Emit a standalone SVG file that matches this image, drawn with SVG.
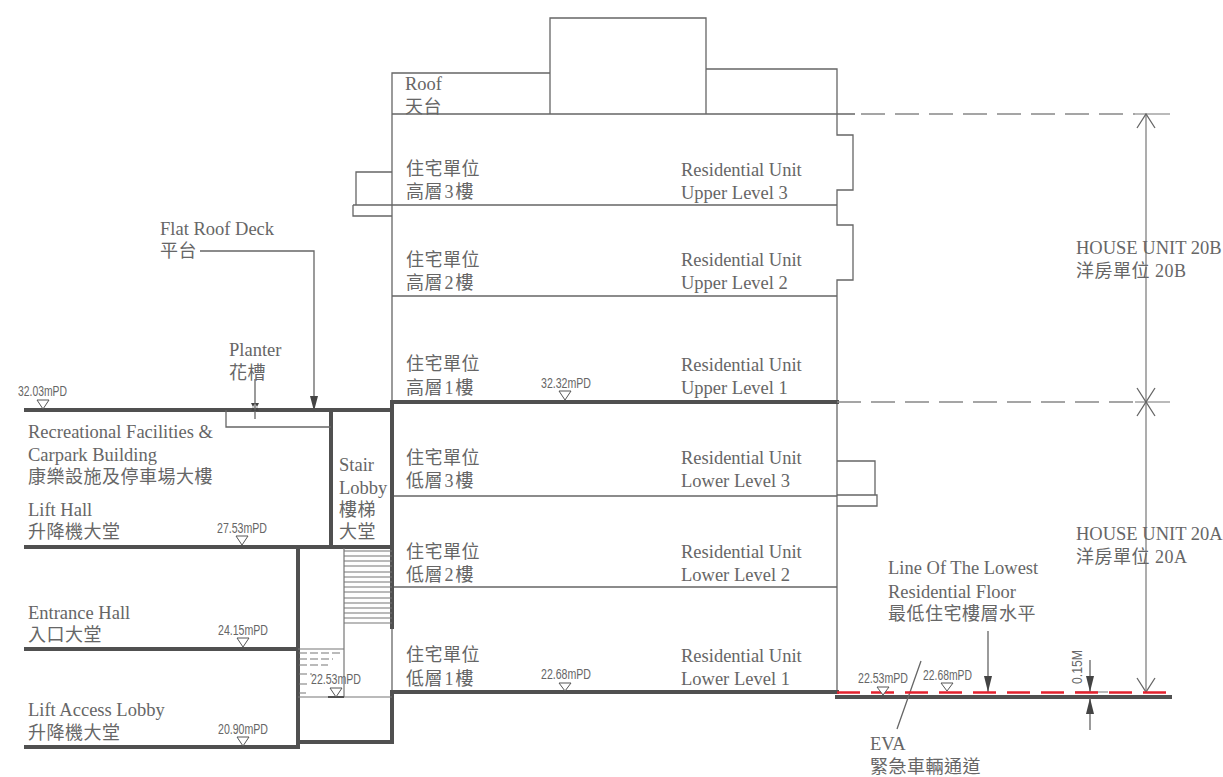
<svg xmlns="http://www.w3.org/2000/svg" width="1223" height="777" viewBox="0 0 1223 777">
<style>
text{font-family:"Liberation Serif","Noto Sans CJK TC",serif;font-size:18.5px;fill:#666}
.c{font-size:18px;letter-spacing:.5px}
.c tspan{letter-spacing:2px}
.m{font-family:"Liberation Sans","Noto Sans CJK TC",sans-serif;font-size:15.5px;fill:#666}
.t{fill:none;stroke:#666;stroke-width:1.3}
.k{fill:none;stroke:#505050;stroke-width:4;stroke-linecap:square}
.l{fill:none;stroke:#777;stroke-width:1.2}
.d{fill:none;stroke:#888;stroke-width:1.3;stroke-dasharray:24 10}
.a{fill:#444;stroke:none}
.o{fill:#fff;stroke:#555;stroke-width:1}
</style>
<rect width="1223" height="777" fill="#fff"/>
<g id="building-outline">
<path class="t" d="M392 114V73H550M550 114V18H706V114M706 69H837V114M392 114H855"/>
<path class="t" d="M392 114V402M837 114V135H853V190H837V225H853V280H837V692"/>
<path class="t" d="M392 205H837M392 296H837M392 496H837M392 587H837"/>
<path class="t" d="M392 172H356V205M353 205H392M353 205V216H392M837 461H875V495M837 495H877V506H837"/>
<path class="t" d="M392 627V692"/>
</g>
<g id="heavy-slabs">
<path class="k" d="M392 402H837M392 402V627M392 692H837M392 692V742H298M298 547V747M26 410H392M26 547H392M331 410V547M26 649H298M26 747H298M837 697H1170"/>
</g>
<g id="stair">
<path class="t" d="M226 410V427H331"/>
<path class="l" d="M344 548V697M298 697H392M298 649H344"/>
<path class="l" d="M344 551H392M344 556H392M344 561H392M344 566H392M344 572H392M344 577H392M344 582H392M344 587H392M344 592H392M344 598H392M344 603H392M344 608H392M344 613H392M344 618H392M344 623H392"/>
<path class="l" stroke-dasharray="8 3" d="M299 653H342M299 659H333M299 665H328M299 674H312M299 684H310M299 693H306"/>
<path class="k" style="stroke-width:2" d="M329 697H343"/>
</g>
<g id="connectors">
<path class="d" d="M861 114H1135M837 402H1135"/>
<path class="l" d="M1135 402H1170M1135 114H1170M1146 114V692"/>
<path class="t" d="M1137 128L1146 114L1155 128M1137 388L1146 402L1155 388M1137 416L1146 402L1155 416M1137 678L1146 692L1155 678"/>
<path class="t" d="M200 251H314V410M255 379V419M988 631V692M1090 660V692M1090 698V730M921 661L897 729"/>
<path class="a" d="M251 403H259L255 411ZM251 411H259L255 403ZM310 396H318L314 411ZM984 676H992L988 692ZM1086 676H1094L1090 692ZM1086 714H1094L1090 698Z"/>
<path class="l" d="M1075 692H1108"/>
<path fill="none" stroke="#e3222e" stroke-width="2.6" stroke-dasharray="23 11" d="M837 692.500H1170"/>
</g>
<g id="level-marks">
<path class="o" d="M37 400H49L43 409Z"/>
<path class="o" d="M236 536H248L242 545Z"/>
<path class="o" d="M237 638H249L243 647Z"/>
<path class="o" d="M237 737H249L243 746Z"/>
<path class="o" d="M330 688H342L336 697Z"/>
<path class="o" d="M559 391H571L565 400Z"/>
<path class="o" d="M559 683H571L565 691Z"/>
<path class="o" d="M877 687H889L883 695Z"/>
<path class="o" d="M941 683H953L947 691Z"/>
</g>
<g id="labels">
<text x="405" y="90">Roof</text><text class="c" x="405" y="113">天台</text>
<text class="c" x="406" y="175">住宅單位</text><text class="c" x="406" y="198">高<tspan>層3</tspan>樓</text>
<text x="681" y="176">Residential Unit</text><text x="681" y="199">Upper Level 3</text>
<text class="c" x="406" y="266">住宅單位</text><text class="c" x="406" y="289">高<tspan>層2</tspan>樓</text>
<text x="681" y="266">Residential Unit</text><text x="681" y="289">Upper Level 2</text>
<text class="c" x="406" y="370">住宅單位</text><text class="c" x="406" y="394">高<tspan>層1</tspan>樓</text>
<text x="681" y="371">Residential Unit</text><text x="681" y="394">Upper Level 1</text>
<text class="c" x="406" y="464">住宅單位</text><text class="c" x="406" y="487">低<tspan>層3</tspan>樓</text>
<text x="681" y="464">Residential Unit</text><text x="681" y="487">Lower Level 3</text>
<text class="c" x="406" y="558">住宅單位</text><text class="c" x="406" y="581">低<tspan>層2</tspan>樓</text>
<text x="681" y="558">Residential Unit</text><text x="681" y="581">Lower Level 2</text>
<text class="c" x="406" y="661">住宅單位</text><text class="c" x="406" y="685">低<tspan>層1</tspan>樓</text>
<text x="681" y="662">Residential Unit</text><text x="681" y="685">Lower Level 1</text>
<text x="160" y="235">Flat Roof Deck</text><text class="c" x="160" y="257">平台</text>
<text x="229" y="356">Planter</text><text class="c" x="229" y="379">花槽</text>
<text x="28" y="438">Recreational Facilities &amp;</text><text x="28" y="461">Carpark Building</text><text class="c" x="28" y="483">康樂設施及停車場大樓</text>
<text x="28" y="516">Lift Hall</text><text class="c" x="28" y="538">升降機大堂</text>
<text x="339" y="471">Stair</text><text x="339" y="494">Lobby</text><text class="c" x="339" y="516">樓梯</text><text class="c" x="339" y="538">大堂</text>
<text x="28" y="619">Entrance Hall</text><text class="c" x="28" y="641">入口大堂</text>
<text x="28" y="716">Lift Access Lobby</text><text class="c" x="28" y="739">升降機大堂</text>
<text x="1076" y="254">HOUSE UNIT 20B</text><text class="c" x="1076" y="277">洋房單位 20B</text>
<text x="1076" y="540">HOUSE UNIT 20A</text><text class="c" x="1076" y="563">洋房單位 20A</text>
<text x="888" y="574">Line Of The Lowest</text><text x="888" y="598">Residential Floor</text><text class="c" x="888" y="620">最低住宅樓層水平</text>
<text x="870" y="750">EVA</text><text class="c" x="870" y="773">緊急車輛通道</text>
<text class="m" x="18" y="396" textLength="49" lengthAdjust="spacingAndGlyphs">32.03mPD</text>
<text class="m" x="217" y="533" textLength="50" lengthAdjust="spacingAndGlyphs">27.53mPD</text>
<text class="m" x="218" y="635" textLength="50" lengthAdjust="spacingAndGlyphs">24.15mPD</text>
<text class="m" x="218" y="734" textLength="50" lengthAdjust="spacingAndGlyphs">20.90mPD</text>
<text class="m" x="311" y="684" textLength="50" lengthAdjust="spacingAndGlyphs">22.53mPD</text>
<text class="m" x="541" y="388" textLength="50" lengthAdjust="spacingAndGlyphs">32.32mPD</text>
<text class="m" x="541" y="679" textLength="50" lengthAdjust="spacingAndGlyphs">22.68mPD</text>
<text class="m" x="858" y="683" textLength="50" lengthAdjust="spacingAndGlyphs">22.53mPD</text>
<text class="m" x="923" y="680" textLength="49" lengthAdjust="spacingAndGlyphs">22.68mPD</text>
<text class="m" transform="translate(1082 684) rotate(-90)" textLength="34" lengthAdjust="spacingAndGlyphs">0.15M</text>
</g>
</svg>
